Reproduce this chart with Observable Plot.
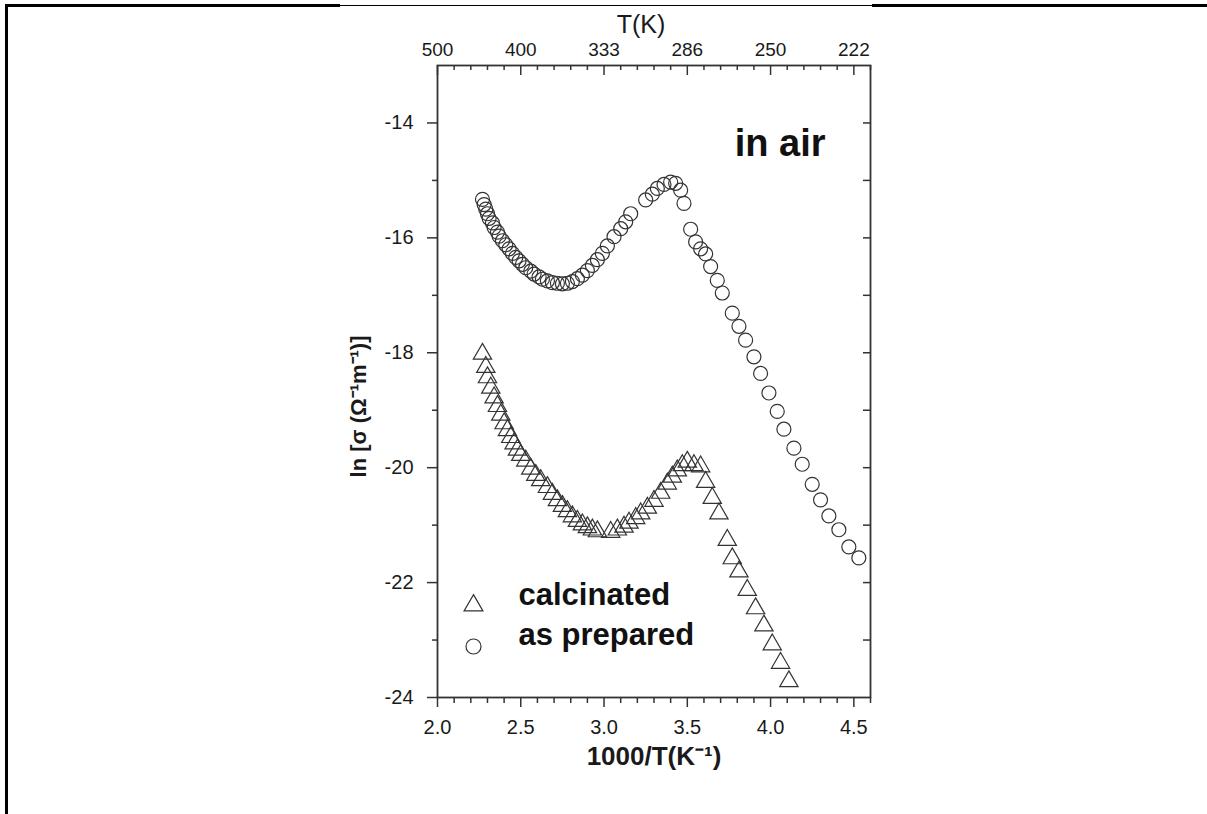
<!DOCTYPE html>
<html><head><meta charset="utf-8">
<script src="https://cdn.jsdelivr.net/npm/d3@7"></script>
<script src="https://cdn.jsdelivr.net/npm/@observablehq/plot@0.6"></script>
<style>
body{margin:0;background:#fff;}
#wrap{position:relative;width:1207px;height:814px;overflow:hidden;background:#fff;}
.b{position:absolute;background:#000;}
</style></head><body>
<div id="wrap">
<div id="chart"></div>
<div class="b" style="left:5px;top:4px;width:335px;height:3px"></div>
<div class="b" style="left:340px;top:5px;width:532px;height:1px"></div>
<div class="b" style="left:872px;top:4px;width:335px;height:3px"></div>
<div class="b" style="left:5px;top:4px;width:3px;height:810px"></div>
</div>
<script>
// as prepared (circles): 1000/T and ln sigma
const preparedX = [2.27,2.28,2.29,2.30,2.31,2.33,2.34,2.36,2.37,2.39,2.41,2.43,2.45,2.47,2.49,2.51,2.53,2.56,2.58,2.61,2.63,2.66,2.69,2.72,2.75,2.78,2.81,2.84,2.87,2.90,2.93,2.96,2.99,3.02,3.06,3.10,3.13,3.16,3.25,3.29,3.32,3.36,3.40,3.43,3.46,3.48,3.52,3.55,3.58,3.61,3.64,3.68,3.71,3.77,3.81,3.85,3.90,3.94,3.99,4.04,4.08,4.14,4.19,4.25,4.30,4.35,4.41,4.47,4.53];
const preparedY = [-15.33,-15.42,-15.50,-15.58,-15.66,-15.74,-15.82,-15.90,-15.97,-16.05,-16.12,-16.19,-16.27,-16.34,-16.40,-16.46,-16.52,-16.58,-16.63,-16.68,-16.72,-16.75,-16.78,-16.79,-16.80,-16.79,-16.76,-16.71,-16.65,-16.57,-16.48,-16.38,-16.27,-16.14,-15.98,-15.84,-15.72,-15.58,-15.34,-15.24,-15.14,-15.07,-15.03,-15.05,-15.17,-15.40,-15.85,-16.07,-16.19,-16.28,-16.50,-16.74,-16.96,-17.31,-17.54,-17.78,-18.07,-18.36,-18.70,-19.02,-19.33,-19.66,-19.94,-20.29,-20.56,-20.84,-21.08,-21.38,-21.57];
// calcinated (triangles)
const calcX = [2.27,2.29,2.30,2.32,2.34,2.36,2.38,2.40,2.42,2.44,2.46,2.48,2.50,2.53,2.56,2.59,2.62,2.66,2.69,2.72,2.75,2.78,2.81,2.84,2.87,2.90,2.93,2.96,3.04,3.08,3.12,3.15,3.19,3.22,3.26,3.30,3.34,3.38,3.41,3.44,3.47,3.50,3.54,3.58,3.61,3.65,3.69,3.74,3.77,3.81,3.86,3.91,3.96,4.01,4.06,4.11];
const calcY = [-18.02,-18.25,-18.43,-18.61,-18.78,-18.93,-19.08,-19.23,-19.35,-19.47,-19.58,-19.69,-19.78,-19.88,-20.02,-20.13,-20.22,-20.34,-20.46,-20.57,-20.67,-20.76,-20.85,-20.93,-20.99,-21.04,-21.08,-21.11,-21.12,-21.08,-21.03,-20.96,-20.88,-20.80,-20.70,-20.58,-20.44,-20.28,-20.16,-20.05,-19.96,-19.90,-19.96,-19.98,-20.25,-20.53,-20.80,-21.26,-21.58,-21.81,-22.13,-22.45,-22.75,-23.08,-23.40,-23.72];

const xTicks = [2.0,2.5,3.0,3.5,4.0,4.5];
const xMinorTicks = [2.1,2.2,2.3,2.4,2.6,2.7,2.8,2.9,3.1,3.2,3.3,3.4,3.6,3.7,3.8,3.9,4.1,4.2,4.3,4.4,4.6];
const topTickLabels = ["500","400","333","286","250","222"];
const yTicks = [-24,-22,-20,-18,-16,-14];
const yMinorTicks = [-23,-21,-19,-17,-15];
const yRightTicks = [-23,-22,-21,-20,-19,-18,-17,-16,-15,-14];
const legendLabels = ["calcinated","as prepared"];
const xTitle = "1000/T(K\u207B\u00B9)";
const topTitle = "T(K)";
const yTitle = "ln [\u03C3 (\u03A9\u207B\u00B9m\u207B\u00B9)]";
const note = "in air";

const prepared = preparedX.map((x, i) => ({x, y: preparedY[i]}));
const calcinated = calcX.map((x, i) => ({x, y: calcY[i]}));
const ink = "#333";
const txt = "#1a1a1a";
const innerH = 814 - 65 - 117;

const plot = Plot.plot({
  width: 1207, height: 814,
  marginLeft: 437, marginRight: 337, marginTop: 65, marginBottom: 117,
  x: {domain: [2, 4.6]},
  y: {domain: [-24, -13]},
  style: {fontFamily: "'Liberation Sans', Arial, sans-serif", fontSize: "20px", color: txt, background: "#fff", overflow: "visible"},
  marks: [
    Plot.frame({stroke: ink, strokeWidth: 1.8}),
    // bottom axis
    Plot.axisX(xTicks, {anchor: "bottom", tickSize: 10, tickPadding: 12, tickFormat: d => d.toFixed(1), label: null, stroke: ink, strokeWidth: 1.5, fontSize: 20, fill: txt}),
    Plot.axisX(xMinorTicks, {anchor: "bottom", tickSize: 6, fill: "none", label: null, stroke: ink, strokeWidth: 1.5}),
    // top axis: inward ticks and labels
    Plot.tickX(xTicks, {x: d => d, insetBottom: innerH - 10, stroke: ink, strokeWidth: 1.5}),
    Plot.tickX(xMinorTicks, {x: d => d, insetBottom: innerH - 5, stroke: ink, strokeWidth: 1.5}),
    Plot.axisX(xTicks, {anchor: "top", tickSize: 0, tickPadding: 10, tickFormat: d => topTickLabels[xTicks.indexOf(d)], label: null, fontSize: 19, fill: txt}),
    // left axis
    Plot.axisY(yTicks, {anchor: "left", tickSize: 10, tickPadding: 14, tickFormat: d => String(d), label: null, stroke: ink, strokeWidth: 1.5, fontSize: 20, fill: txt}),
    Plot.axisY(yMinorTicks, {anchor: "left", tickSize: 5, fill: "none", label: null, stroke: ink, strokeWidth: 1.5}),
    // right axis (ticks inward)
    Plot.axisY(yRightTicks, {anchor: "right", tickSize: -8, fill: "none", label: null, stroke: ink, strokeWidth: 1.5}),
    // data
    Plot.dot(prepared, {x: "x", y: "y", symbol: "circle", r: 7, stroke: ink, strokeWidth: 1.2, fill: "none"}),
    Plot.dot(calcinated, {x: "x", y: "y", symbol: "triangle", r: 6.8, stroke: ink, strokeWidth: 1.2, fill: "none"}),
    // titles
    Plot.text([xTitle], {text: d => d, frameAnchor: "bottom", dy: 67, fontSize: 26, fontWeight: "bold", fill: txt}),
    Plot.text([topTitle], {text: d => d, frameAnchor: "top", dx: -13, dy: -50, fontSize: 25, fill: txt}),
    Plot.text([yTitle], {text: d => d, frameAnchor: "left", textAnchor: "middle", rotate: -90, dx: -79, dy: 25, fontSize: 22, fontWeight: "bold", fill: txt}),
    Plot.text([note], {text: d => d, frameAnchor: "top-right", textAnchor: "end", dx: -45, dy: 64, fontSize: 38, fontWeight: "bold", fill: "#111"}),
    // legend
    Plot.dot([legendLabels[0]], {frameAnchor: "bottom-left", dx: 36, dy: -92, symbol: "triangle", r: 7, stroke: ink, strokeWidth: 1.2, fill: "none"}),
    Plot.dot([legendLabels[1]], {frameAnchor: "bottom-left", dx: 36, dy: -51, symbol: "circle", r: 7.5, stroke: ink, strokeWidth: 1.2, fill: "none"}),
    Plot.text([legendLabels[0]], {text: d => d, frameAnchor: "bottom-left", textAnchor: "start", dx: 81, dy: -93, fontSize: 31, fontWeight: "bold", fill: "#111"}),
    Plot.text([legendLabels[1]], {text: d => d, frameAnchor: "bottom-left", textAnchor: "start", dx: 81, dy: -53, fontSize: 31, fontWeight: "bold", fill: "#111"})
  ]
});
document.getElementById("chart").appendChild(plot);
</script>
</body></html>
